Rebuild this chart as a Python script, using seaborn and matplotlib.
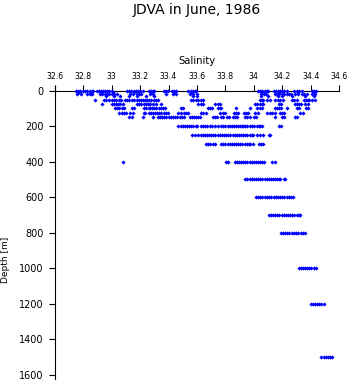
import matplotlib
matplotlib.use("Agg")
import matplotlib.pyplot as plt
import seaborn as sns
import pandas as pd

# ---------------- data ----------------
title = "JDVA in June, 1986"
x_label = "Salinity"
y_label = "Depth [m]"
x_ticks = [32.6, 32.8, 33.0, 33.2, 33.4, 33.6, 33.8, 34.0, 34.2, 34.4, 34.6]
x_tick_labels = ["32.6", "32.8", "33", "33.2", "33.4", "33.6", "33.8", "34", "34.2", "34.4", "34.6"]
y_ticks = [0, 200, 400, 600, 800, 1000, 1200, 1400, 1600]

sal_0 = [32.75, 32.765, 32.78, 32.80, 32.815, 32.83, 32.845, 32.86, 32.87, 32.895, 32.91, 32.925,
         32.94, 32.955, 32.97, 32.985, 33.0, 33.105, 33.12, 33.135, 33.155, 33.17, 33.185, 33.20,
         33.22, 33.26, 33.275, 33.29, 33.30, 33.37, 33.385, 33.395, 33.425, 33.44, 33.455, 33.54,
         33.555, 33.57, 33.585, 33.595, 34.03, 34.045, 34.06, 34.075, 34.09, 34.10, 34.14, 34.155,
         34.17, 34.185, 34.195, 34.21, 34.23, 34.285, 34.30, 34.315, 34.335, 34.41, 34.425, 34.44]
sal_10 = [32.77, 32.85, 32.93, 33.01, 33.16, 33.28, 33.44, 33.56, 34.06, 34.18, 34.31, 34.42]
sal_20 = [32.76, 32.785, 32.825, 32.845, 32.865, 32.92, 32.935, 32.95, 32.965, 32.98, 33.0, 33.02,
          33.035, 33.13, 33.15, 33.175, 33.19, 33.21, 33.27, 33.29, 33.38, 33.43, 33.45, 33.55,
          33.575, 33.60, 34.05, 34.07, 34.085, 34.145, 34.16, 34.175, 34.20, 34.215, 34.23, 34.245,
          34.26, 34.29, 34.31, 34.34, 34.355, 34.37, 34.41, 34.43]
sal_30 = [32.96, 33.02, 33.06, 33.12, 33.18, 33.24, 33.30, 33.57, 33.60, 34.05, 34.10, 34.17,
          34.20, 34.27, 34.36, 34.42]
sal_50 = [32.885, 32.945, 32.96, 32.985, 33.0, 33.015, 33.03, 33.05, 33.065, 33.095, 33.11, 33.125,
          33.14, 33.16, 33.175, 33.19, 33.205, 33.22, 33.235, 33.25, 33.265, 33.28, 33.295, 33.31,
          33.325, 33.555, 33.57, 33.59, 33.605, 33.63, 33.645, 34.04, 34.055, 34.065, 34.09, 34.11,
          34.15, 34.17, 34.185, 34.205, 34.265, 34.28, 34.30, 34.35, 34.365, 34.38, 34.39, 34.41, 34.43]
sal_75 = [32.935, 33.0, 33.015, 33.03, 33.045, 33.06, 33.078, 33.18, 33.195, 33.21, 33.225, 33.24,
          33.255, 33.27, 33.29, 33.315, 33.35, 33.61, 33.625, 33.64, 33.73, 33.745, 33.765, 34.01,
          34.025, 34.04, 34.055, 34.065, 34.175, 34.19, 34.29, 34.305, 34.32, 34.33, 34.36, 34.38]
sal_100 = [33.025, 33.04, 33.055, 33.07, 33.09, 33.145, 33.155, 33.23, 33.245, 33.26, 33.27, 33.285,
           33.30, 33.315, 33.33, 33.345, 33.36, 33.375, 33.49, 33.505, 33.675, 33.69, 33.705, 33.745,
           33.76, 33.77, 33.875, 33.975, 34.025, 34.04, 34.055, 34.145, 34.16, 34.175, 34.19, 34.235,
           34.305, 34.32, 34.365, 34.38]
sal_125 = [33.055, 33.07, 33.085, 33.10, 33.13, 33.148, 33.225, 33.238, 33.26, 33.275, 33.29, 33.305,
           33.32, 33.335, 33.35, 33.365, 33.38, 33.395, 33.47, 33.485, 33.51, 33.525, 33.538, 33.63,
           33.645, 33.66, 33.765, 33.78, 33.795, 33.86, 33.875, 33.89, 33.93, 33.945, 33.96, 34.01,
           34.028, 34.09, 34.11, 34.13, 34.145, 34.185, 34.20, 34.215, 34.325, 34.345]
sal_150 = [33.12, 33.14, 33.22, 33.29, 33.325, 33.34, 33.355, 33.37, 33.385, 33.40, 33.415, 33.43,
           33.445, 33.457, 33.48, 33.495, 33.51, 33.55, 33.565, 33.58, 33.595, 33.61, 33.62, 33.715,
           33.73, 33.74, 33.77, 33.785, 33.81, 33.825, 33.85, 33.865, 33.88, 33.94, 33.955, 33.97,
           34.0, 34.015, 34.15, 34.2, 34.21, 34.29, 34.305]
sal_200 = [33.47, 33.485, 33.50, 33.515, 33.53, 33.545, 33.56, 33.575, 33.59, 33.60, 33.625, 33.64,
           33.655, 33.672, 33.69, 33.705, 33.73, 33.745, 33.77, 33.785, 33.80, 33.815, 33.83, 33.845,
           33.86, 33.875, 33.89, 33.905, 33.915, 33.925, 33.94, 33.95, 33.97, 33.985, 34.0, 34.02,
           34.035, 34.045, 34.06, 34.18, 34.19]
sal_250 = [33.565, 33.585, 33.61, 33.625, 33.64, 33.655, 33.67, 33.685, 33.70, 33.715, 33.73, 33.745,
           33.76, 33.775, 33.79, 33.805, 33.82, 33.835, 33.85, 33.865, 33.88, 33.895, 33.91, 33.925,
           33.94, 33.955, 33.97, 33.985, 33.997, 34.025, 34.04, 34.065, 34.105, 34.115]
sal_300 = [33.66, 33.675, 33.69, 33.715, 33.73, 33.77, 33.785, 33.80, 33.815, 33.83, 33.845, 33.86,
           33.875, 33.89, 33.905, 33.92, 33.935, 33.95, 33.965, 33.975, 33.995, 34.035, 34.05, 34.065]
sal_400 = [33.08, 33.805, 33.815, 33.865, 33.88, 33.895, 33.91, 33.925, 33.94, 33.955, 33.97, 33.985,
           34.0, 34.015, 34.03, 34.045, 34.06, 34.07, 34.13, 34.145]
sal_500 = [33.94, 33.955, 33.97, 33.985, 34.0, 34.015, 34.03, 34.045, 34.06, 34.075, 34.09, 34.105,
           34.12, 34.135, 34.15, 34.165, 34.18, 34.186, 34.21, 34.22]
sal_600 = [34.015, 34.03, 34.045, 34.06, 34.075, 34.09, 34.105, 34.12, 34.14, 34.155, 34.17, 34.185,
           34.20, 34.215, 34.23, 34.245, 34.26, 34.275]
sal_700 = [34.105, 34.12, 34.135, 34.15, 34.165, 34.18, 34.195, 34.21, 34.225, 34.24, 34.255, 34.27,
           34.285, 34.30, 34.315, 34.324]
sal_800 = [34.19, 34.205, 34.22, 34.235, 34.25, 34.265, 34.28, 34.295, 34.31, 34.33, 34.345, 34.36]
sal_1000 = [34.315, 34.33, 34.345, 34.36, 34.375, 34.39, 34.405, 34.42, 34.435]
sal_1200 = [34.40, 34.415, 34.43, 34.445, 34.46, 34.475, 34.49]
sal_1500 = [34.475, 34.49, 34.505, 34.52, 34.535, 34.55]

depth_levels = [0, 10, 20, 30, 50, 75, 100, 125, 150, 200, 250, 300, 400, 500, 600, 700, 800,
                1000, 1200, 1500]
sal_by_level = [sal_0, sal_10, sal_20, sal_30, sal_50, sal_75, sal_100, sal_125, sal_150, sal_200,
                sal_250, sal_300, sal_400, sal_500, sal_600, sal_700, sal_800, sal_1000, sal_1200,
                sal_1500]

rows = []
for d, sals in zip(depth_levels, sal_by_level):
    for s in sals:
        rows.append({"Salinity": s, "Depth": d})
df = pd.DataFrame(rows)

# ---------------- plot ----------------
sns.set_style("ticks")
plt.rcParams['font.family'] = ['DejaVu Sans']

fig = plt.figure(figsize=(3.53, 3.84), dpi=100)
ax = fig.add_axes([0.155, 0.0234, 0.806, 0.7406])

sns.scatterplot(data=df, x="Salinity", y="Depth", marker="D", s=4.5, color="#0000ff",
                linewidth=0, ax=ax, clip_on=False, zorder=3, legend=False)

ax.set_xlim(32.6, 34.6)
ax.set_ylim(1600, 0)
ax.xaxis.tick_top()
ax.xaxis.set_label_position('top')
ax.set_xticks(x_ticks)
ax.set_xticklabels(x_tick_labels)
ax.set_yticks(y_ticks)
ax.set_yticklabels([str(v) for v in y_ticks])

for side in ["right", "bottom"]:
    ax.spines[side].set_visible(False)
for side in ["left", "top"]:
    ax.spines[side].set_color("black")
    ax.spines[side].set_linewidth(0.8)
ax.spines["left"].set_bounds(1620, -28)

ax.tick_params(axis="x", direction="out", length=4, width=0.8, color="black",
               labelsize=5.6, pad=3, labelcolor="black")
ax.tick_params(axis="y", direction="out", length=4, width=0.8, color="black",
               labelsize=7, pad=4, labelcolor="black")

ax.set_xlabel(x_label, fontsize=7.2, labelpad=6, color="black")
ax.set_ylabel("")
fig.text(6 / 353, 1 - 260 / 384, y_label, rotation=90, ha="center", va="center",
         fontsize=6.5, color="black")
fig.text(197 / 353, 1 - 10 / 384, title, ha="center", va="center", fontsize=10, color="black")

fig.savefig("out.png", dpi=100)
